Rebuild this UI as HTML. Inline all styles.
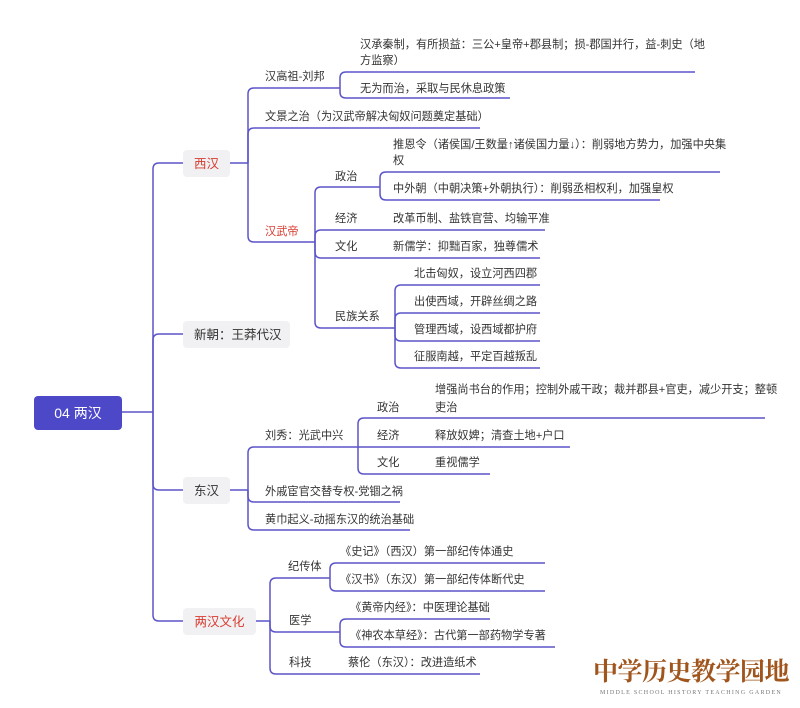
<!DOCTYPE html>
<html><head><meta charset="utf-8"><style>
html,body{margin:0;padding:0;background:#fff;}
svg{display:block;}
text{font-family:"Liberation Sans","Noto Sans CJK SC",sans-serif;font-size:11.2px;fill:#333;}
.l{fill:none;stroke:#5b54c9;stroke-width:1.5;}
</style></head><body>
<svg width="800" height="708" viewBox="0 0 800 708" xmlns="http://www.w3.org/2000/svg">
<g class="l">
<path d="M122 412 H153"/>
<path d="M153 412 V169 Q153 163 159 163 H183"/>
<path d="M153 412 V340 Q153 334 159 334 H183"/>
<path d="M153 412 V484 Q153 490 159 490 H183"/>
<path d="M153 412 V615 Q153 621 159 621 H183"/>
<path d="M230 163 H248"/>
<path d="M248 163 V94 Q248 88 254 88 H340"/>
<path d="M248 163 V134 Q248 128 254 128 H480"/>
<path d="M248 163 V236 Q248 242 254 242 H315"/>
<path d="M340 88 V78 Q340 72 346 72 H695"/>
<path d="M340 88 V92 Q340 98 346 98 H510"/>
<path d="M315 242 V193 Q315 187 321 187 H380"/>
<path d="M315 242 V236 Q315 230 321 230 H545"/>
<path d="M315 242 V252 Q315 258 321 258 H540"/>
<path d="M315 242 V322 Q315 328 321 328 H395"/>
<path d="M380 187 V178 Q380 172 386 172 H720"/>
<path d="M380 187 V194 Q380 200 386 200 H660"/>
<path d="M395 328 V291 Q395 285 401 285 H540"/>
<path d="M395 328 V319 Q395 313 401 313 H540"/>
<path d="M395 328 V335 Q395 341 401 341 H540"/>
<path d="M395 328 V362 Q395 368 401 368 H540"/>
<path d="M230 490 H248"/>
<path d="M248 490 V453 Q248 447 254 447 H358"/>
<path d="M248 490 V496 Q248 502 254 502 H400"/>
<path d="M248 490 V524 Q248 530 254 530 H410"/>
<path d="M358 447 V424 Q358 418 364 418 H765"/>
<path d="M358 447 H570"/>
<path d="M358 447 V468 Q358 474 364 474 H490"/>
<path d="M256 621 H270"/>
<path d="M270 621 V584 Q270 578 276 578 H330"/>
<path d="M270 621 V626 Q270 632 276 632 H340"/>
<path d="M270 621 V668 Q270 674 276 674 H480"/>
<path d="M330 578 V569 Q330 563 336 563 H545"/>
<path d="M330 578 V585 Q330 591 336 591 H545"/>
<path d="M340 632 V625 Q340 619 346 619 H490"/>
<path d="M340 632 V641 Q340 647 346 647 H555"/>
</g>
<rect x="34" y="396" width="88" height="34" rx="4" fill="#4c48c8"/>
<text x="78" y="418" text-anchor="middle" style="fill:#fff;font-size:14px">04 两汉</text>
<rect x="183" y="150" width="47" height="27" rx="4" fill="#f1f1f3"/>
<text x="206.5" y="168" text-anchor="middle" style="fill:#d83a2e;font-size:12.5px">西汉</text>
<rect x="183" y="321" width="107" height="27" rx="4" fill="#f1f1f3"/>
<text x="194" y="339" style="font-size:12.5px">新朝：王莽代汉</text>
<rect x="183" y="477" width="47" height="27" rx="4" fill="#f1f1f3"/>
<text x="206.5" y="495" text-anchor="middle" style="font-size:12.5px">东汉</text>
<rect x="183" y="608" width="73" height="27" rx="4" fill="#f1f1f3"/>
<text x="219.5" y="626" text-anchor="middle" style="fill:#d83a2e;font-size:12.5px">两汉文化</text>

<text x="265" y="80">汉高祖-刘邦</text>
<text x="360" y="48">汉承秦制，有所损益：三公+皇帝+郡县制；损-郡国并行，益-刺史（地</text>
<text x="360" y="64">方监察）</text>
<text x="360" y="92">无为而治，采取与民休息政策</text>
<text x="265" y="120">文景之治（为汉武帝解决匈奴问题奠定基础）</text>
<text x="265" y="235" style="fill:#d83a2e">汉武帝</text>
<text x="335" y="180">政治</text>
<text x="393" y="148">推恩令（诸侯国/王数量↑诸侯国力量↓）：削弱地方势力，加强中央集</text>
<text x="393" y="164">权</text>
<text x="393" y="192">中外朝（中朝决策+外朝执行）：削弱丞相权利，加强皇权</text>
<text x="335" y="222">经济</text>
<text x="393" y="222">改革币制、盐铁官营、均输平准</text>
<text x="335" y="250">文化</text>
<text x="393" y="250">新儒学：抑黜百家，独尊儒术</text>
<text x="335" y="320">民族关系</text>
<text x="414" y="277">北击匈奴，设立河西四郡</text>
<text x="414" y="305">出使西域，开辟丝绸之路</text>
<text x="414" y="333">管理西域，设西域都护府</text>
<text x="414" y="360">征服南越，平定百越叛乱</text>

<text x="265" y="439">刘秀：光武中兴</text>
<text x="377" y="411">政治</text>
<text x="435" y="393">增强尚书台的作用；控制外戚干政；裁并郡县+官吏，减少开支；整顿</text>
<text x="435" y="411">吏治</text>
<text x="377" y="439">经济</text>
<text x="435" y="439">释放奴婢；清查土地+户口</text>
<text x="377" y="466">文化</text>
<text x="435" y="466">重视儒学</text>
<text x="265" y="495">外戚宦官交替专权-党锢之祸</text>
<text x="265" y="523">黄巾起义-动摇东汉的统治基础</text>

<text x="288" y="570">纪传体</text>
<text x="340" y="555">《史记》（西汉）第一部纪传体通史</text>
<text x="340" y="583">《汉书》（东汉）第一部纪传体断代史</text>
<text x="289" y="624">医学</text>
<text x="350" y="611">《黄帝内经》：中医理论基础</text>
<text x="350" y="639">《神农本草经》：古代第一部药物学专著</text>
<text x="289" y="666">科技</text>
<text x="348" y="666">蔡伦（东汉）：改进造纸术</text>

<text x="691" y="680" text-anchor="middle" style="fill:#a0551c;font-size:25px;font-weight:bold;font-family:'Noto Serif CJK SC','Noto Sans CJK SC',serif;letter-spacing:-0.5px">中学历史教学园地</text>
<text x="691" y="694" text-anchor="middle" style="fill:#777;font-size:6px;font-family:'Liberation Serif',serif;letter-spacing:1.3px">MIDDLE SCHOOL HISTORY TEACHING GARDEN</text>
</svg>
</body></html>
